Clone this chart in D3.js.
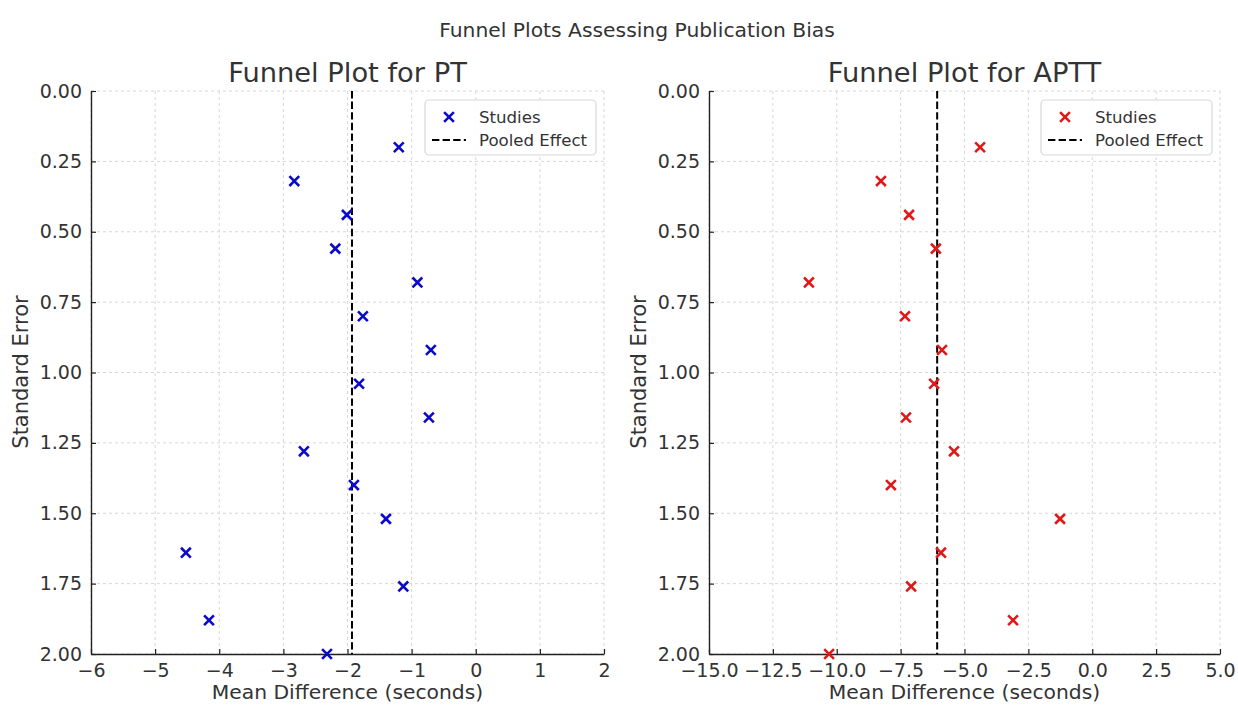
<!DOCTYPE html>
<html><head><meta charset="utf-8">
<script src="https://cdn.jsdelivr.net/npm/d3@7"></script>
<style>body{margin:0;background:#fff;} text{font-family:"DejaVu Sans",sans-serif;}</style>
</head><body>
<svg id="chart" width="1238" height="705"></svg>
<script>
// ---- data ----
const standardErrors = [0.20,0.32,0.44,0.56,0.68,0.80,0.92,1.04,1.16,1.28,1.40,1.52,1.64,1.76,1.88,2.00];
const ptMeanDiff   = [-1.20,-2.83,-2.01,-2.19,-0.91,-1.76,-0.70,-1.82,-0.73,-2.68,-1.90,-1.40,-4.52,-1.13,-4.16,-2.32];
const apttMeanDiff = [-4.39,-8.27,-7.17,-6.12,-11.09,-7.33,-5.88,-6.19,-7.29,-5.41,-7.88,-1.26,-5.92,-7.09,-3.10,-10.30];
const ptPooled = -1.93;
const apttPooled = -6.07;
const ptXTicks = [-6,-5,-4,-3,-2,-1,0,1,2];
const apttXTicks = [-15,-12.5,-10,-7.5,-5,-2.5,0,2.5,5];
const yTicks = [0,0.25,0.5,0.75,1.0,1.25,1.5,1.75,2.0];

const svg = d3.select("#chart");
const textColor = "#333";

svg.append("text").attr("x", 637).attr("y", 36.5).attr("text-anchor","middle")
  .attr("font-size", 20.3).attr("fill", textColor).text("Funnel Plots Assessing Publication Bias");

function panel(cfg){
  const g = svg.append("g");
  const x = d3.scaleLinear().domain(cfg.xDomain).range([cfg.left, cfg.right]);
  const y = d3.scaleLinear().domain([0,2]).range([91, 654]);

  // grid
  g.selectAll(".gx").data(cfg.xTicks).enter().append("line")
    .attr("x1", d=>x(d)).attr("x2", d=>x(d)).attr("y1", y(0)).attr("y2", y(2))
    .attr("stroke","#d3d3d3").attr("stroke-width",0.9).attr("stroke-dasharray","3,3");
  g.selectAll(".gy").data(yTicks).enter().append("line")
    .attr("x1", x(cfg.xDomain[0])).attr("x2", x(cfg.xDomain[1])).attr("y1", d=>y(d)).attr("y2", d=>y(d))
    .attr("stroke","#d3d3d3").attr("stroke-width",0.9).attr("stroke-dasharray","3,3");

  // axes (inward ticks)
  const xAxis = d3.axisBottom(x).tickValues(cfg.xTicks).tickSizeInner(-5).tickSizeOuter(0).tickPadding(9)
    .tickFormat(cfg.xFmt);
  const gx = g.append("g").attr("transform",`translate(0,${y(2)})`).call(xAxis);
  const yAxis = d3.axisLeft(y).tickValues(yTicks).tickSizeInner(-5).tickSizeOuter(0).tickPadding(9)
    .tickFormat(d3.format(".2f"));
  const gy = g.append("g").attr("transform",`translate(${x(cfg.xDomain[0])},0)`).call(yAxis);
  [gx,gy].forEach(a=>{
    a.select(".domain").attr("stroke","#222").attr("stroke-width",1.4);
    a.selectAll(".tick line").attr("stroke","#222").attr("stroke-width",1.2);
    a.selectAll(".tick text").attr("font-size",19).attr("fill",textColor)
     .style("font-family","'DejaVu Sans',sans-serif");
  });
  gx.selectAll(".tick text").attr("dy","0.75em");

  // pooled line
  g.append("line").attr("x1", x(cfg.pooled)).attr("x2", x(cfg.pooled))
    .attr("y1", y(0)).attr("y2", y(2)).attr("stroke","#000").attr("stroke-width",2)
    .attr("stroke-dasharray","7.4,3.2");

  // markers
  const s = 4.9;
  g.selectAll(".pt").data(cfg.values.map((v,i)=>({x:v, y:standardErrors[i]})))
    .enter().append("path")
    .attr("d", d=>{const cx=x(d.x), cy=y(d.y); return `M${cx-s},${cy-s}L${cx+s},${cy+s}M${cx-s},${cy+s}L${cx+s},${cy-s}`;})
    .attr("stroke", cfg.color).attr("stroke-width",2.6).attr("fill","none");

  // titles
  const cx = (cfg.left+cfg.right)/2;
  g.append("text").attr("x", cx).attr("y", 82).attr("text-anchor","middle")
    .attr("font-size", 27.3).attr("fill", textColor).text(cfg.title);
  g.append("text").attr("x", cx).attr("y", 699).attr("text-anchor","middle")
    .attr("font-size", 20.3).attr("fill", textColor).text("Mean Difference (seconds)");
  g.append("text").attr("transform",`translate(${cfg.left-63},372) rotate(-90)`).attr("text-anchor","middle")
    .attr("font-size", 21).attr("fill", textColor).text("Standard Error");

  // legend
  const lx = cfg.right - 179, ly = 100;
  g.append("rect").attr("x", lx).attr("y", ly).attr("width",171).attr("height",55).attr("rx",4)
    .attr("fill","#fff").attr("fill-opacity",0.85).attr("stroke","#d8d8d8").attr("stroke-width",1.2);
  const mx = lx + 24, my = ly + 17;
  g.append("path").attr("d",`M${mx-s},${my-s}L${mx+s},${my+s}M${mx-s},${my+s}L${mx+s},${my-s}`)
    .attr("stroke", cfg.color).attr("stroke-width",2.6).attr("fill","none");
  g.append("text").attr("x", lx+54).attr("y", my+6).attr("font-size",16.6).attr("fill",textColor).text("Studies");
  g.append("line").attr("x1", lx+7).attr("x2", lx+41).attr("y1", ly+40).attr("y2", ly+40)
    .attr("stroke","#000").attr("stroke-width",2).attr("stroke-dasharray","7.4,3.2");
  g.append("text").attr("x", lx+54).attr("y", ly+46).attr("font-size",16.6).attr("fill",textColor).text("Pooled Effect");
}

const minus = s => s.replace("-","\u2212");
panel({left:91, right:604, xDomain:[-6,2], xTicks:ptXTicks, xFmt:d=>minus(d3.format("d")(d)),
  values:ptMeanDiff, pooled:ptPooled, color:"#0a0acc", title:"Funnel Plot for PT"});
panel({left:709, right:1220, xDomain:[-15,5], xTicks:apttXTicks, xFmt:d=>minus(d3.format(".1f")(d)),
  values:apttMeanDiff, pooled:apttPooled, color:"#e01818", title:"Funnel Plot for APTT"});
</script>
</body></html>
